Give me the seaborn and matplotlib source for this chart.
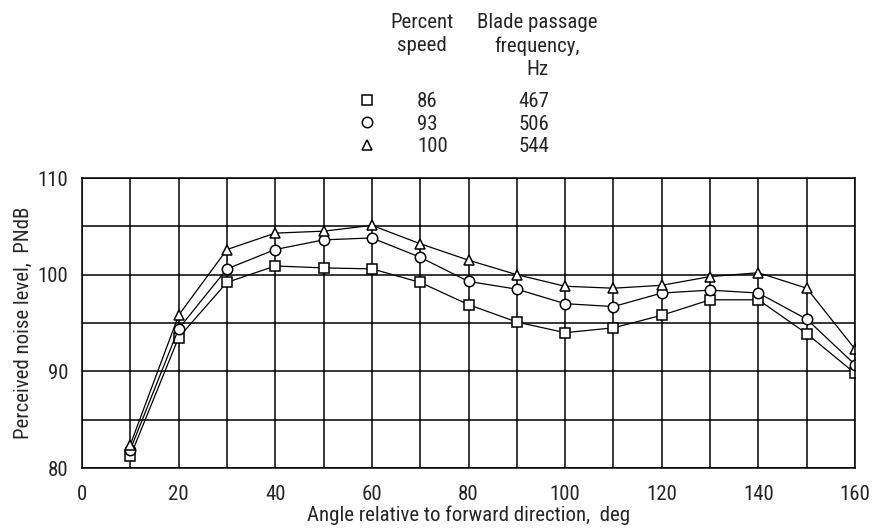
import numpy as np
import pandas as pd
import matplotlib.pyplot as plt
import seaborn as sns
from matplotlib import font_manager as fm
from matplotlib.lines import Line2D
from matplotlib.ticker import MultipleLocator

# datos
angle = [10, 20, 30, 40, 50, 60, 70, 80, 90, 100, 110, 120, 130, 140, 150, 160]
pnl_86 = [81.2, 93.5, 99.2, 100.9, 100.7, 100.6, 99.2, 96.9, 95.1, 94.0, 94.5, 95.8, 97.4, 97.4, 93.9, 89.8]
pnl_93 = [81.9, 94.4, 100.6, 102.6, 103.6, 103.8, 101.8, 99.3, 98.5, 97.0, 96.7, 98.1, 98.4, 98.1, 95.4, 90.7]
pnl_100 = [82.4, 95.8, 102.6, 104.3, 104.5, 105.1, 103.2, 101.5, 100.0, 98.8, 98.6, 98.9, 99.8, 100.2, 98.6, 92.3]
speed = ["86", "93", "100"]
freq = ["467", "506", "544"]
markers = ["s", "o", "^"]

df = pd.DataFrame({
    "angle": angle * 3,
    "pnl": pnl_86 + pnl_93 + pnl_100,
    "speed": [s for s in speed for _ in angle],
})

sns.set_style("white")

# buscar una fuente estrecha instalada
familia, estiramiento, fs = "DejaVu Sans", "normal", 12.5
preferidas = ["Liberation Sans Narrow", "Roboto Condensed", "Open Sans Condensed",
              "Noto Sans Condensed", "Noto Sans", "Roboto", "Open Sans", "DejaVu Sans"]
encontrada = False
for nombre in preferidas:
    for f in fm.fontManager.ttflist:
        st = str(f.stretch).lower()
        angosta = ("narrow" in f.name.lower() or "condensed" in f.name.lower()
                   or st in ("condensed", "semi-condensed", "extra-condensed")
                   or st.isdigit() and int(st) < 500)
        if f.name == nombre and angosta and f.style == "normal" and f.weight in (400, "normal", "regular"):
            familia, estiramiento, fs = f.name, f.stretch, 15
            encontrada = True
            break
    if encontrada:
        break

plt.rcParams["font.family"] = [familia, "DejaVu Sans"]
plt.rcParams["font.stretch"] = estiramiento
plt.rcParams["font.size"] = fs
fs_px = fs * 100 / 72

fig = plt.figure(figsize=(8.72, 5.32), dpi=100)
ax = fig.add_axes([82 / 872, 1 - 468 / 532, 773 / 872, 290 / 532])

sns.lineplot(
    data=df, x="angle", y="pnl", hue="speed", style="speed",
    markers=markers, dashes=False, palette=["black"] * 3,
    markerfacecolor="white", markeredgecolor="black", markeredgewidth=1.1,
    markersize=7.5, linewidth=0.9, legend=False, ax=ax,
)

ax.set_xlim(0, 160)
ax.set_ylim(80, 110)
ax.xaxis.set_major_locator(MultipleLocator(20))
ax.xaxis.set_minor_locator(MultipleLocator(10))
ax.yaxis.set_major_locator(MultipleLocator(10))
ax.yaxis.set_minor_locator(MultipleLocator(5))
ax.grid(which="both", color="black", linewidth=1.1)
for s in ax.spines.values():
    s.set_color("black")
    s.set_linewidth(1.1)
ax.tick_params(which="both", direction="out", length=4, width=1, color="black",
               labelsize=fs, pad=6)
ax.tick_params(axis="x", pad=8)

ax.set_xlabel("Angle relative to forward direction,  deg", fontsize=fs, labelpad=1)
ax.set_ylabel("Perceived noise level,  PNdB", fontsize=fs, labelpad=3)

# leyenda
handles = [Line2D([], [], marker=m, ls="none", mfc="white", mec="black",
                  mew=1.1, ms=7.5) for m in markers]
leg = fig.legend(handles, speed, loc="upper left",
                 bbox_to_anchor=((367 - fs_px / 2) / 872, 1 - 92 / 532),
                 frameon=False, borderpad=0, borderaxespad=0,
                 handlelength=1, handletextpad=(417 - 367 - fs_px / 2) / fs_px,
                 labelspacing=0.17, fontsize=fs)

fig.canvas.draw()
for t, f in zip(leg.get_texts(), freq):
    bb = t.get_window_extent()
    yc = (bb.y0 + bb.y1) / 2
    fig.text(534 / 872, yc / fig.bbox.height, f, ha="center", va="center",
             fontsize=fs)

fig.text(422 / 872, 1 - 34 / 532, "Percent\nspeed", ha="center", va="center",
         fontsize=fs, linespacing=1.3)
fig.text(537 / 872, 1 - 46 / 532, "Blade passage\nfrequency,\nHz", ha="center",
         va="center", fontsize=fs, linespacing=1.3)

fig.savefig("out.png", dpi=100, facecolor="white")
